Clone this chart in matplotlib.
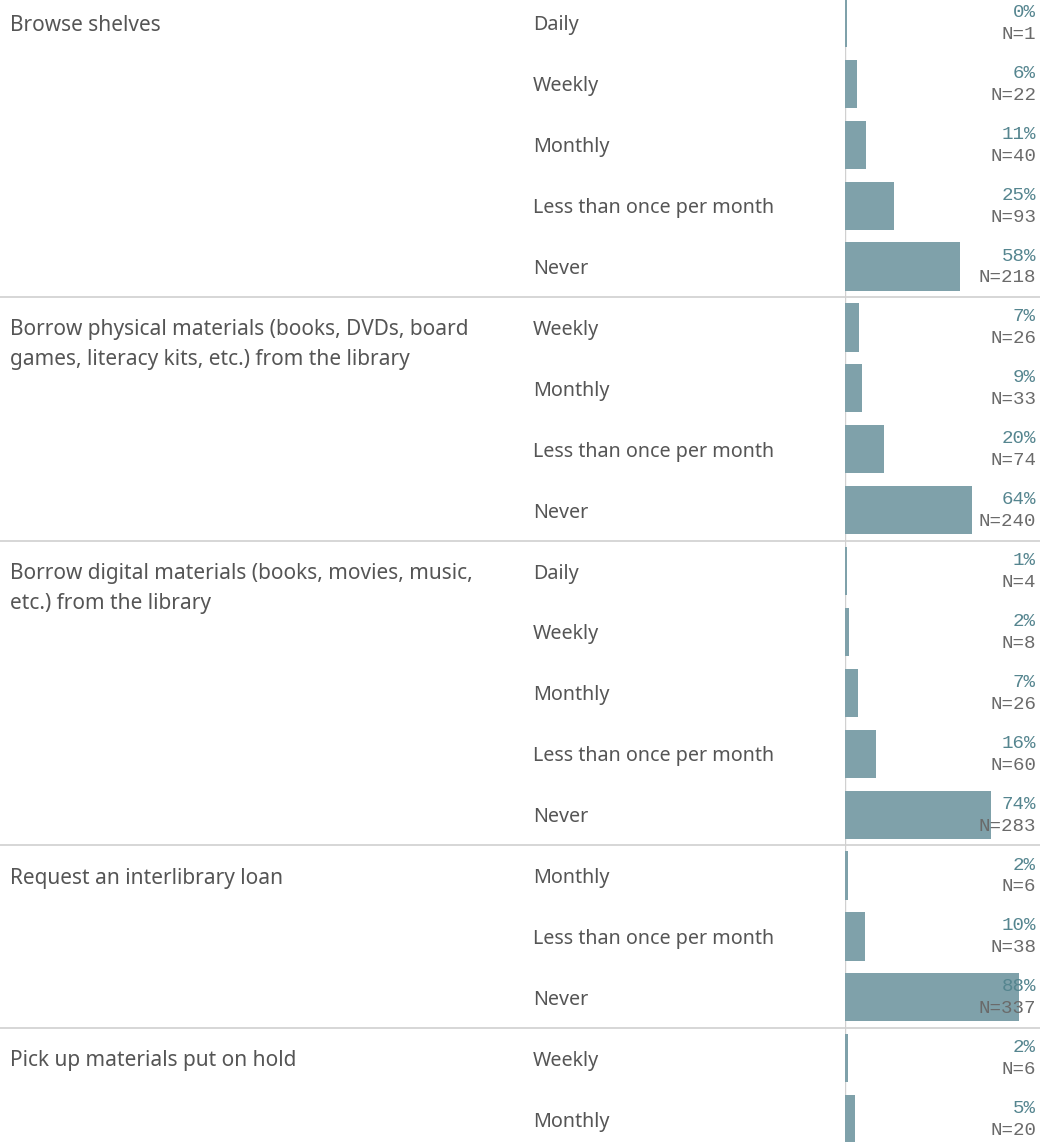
import matplotlib
matplotlib.use("Agg")
import matplotlib.pyplot as plt
import matplotlib.transforms as mtransforms
from matplotlib.lines import Line2D

# Survey data, one list per question
questions = [
    "Browse shelves",
    "Borrow physical materials (books, DVDs, board\ngames, literacy kits, etc.) from the library",
    "Borrow digital materials (books, movies, music,\netc.) from the library",
    "Request an interlibrary loan",
    "Pick up materials put on hold",
]
answers = [
    ["Daily", "Weekly", "Monthly", "Less than once per month", "Never"],
    ["Weekly", "Monthly", "Less than once per month", "Never"],
    ["Daily", "Weekly", "Monthly", "Less than once per month", "Never"],
    ["Monthly", "Less than once per month", "Never"],
    ["Weekly", "Monthly"],
]
pct_labels = [
    [0, 6, 11, 25, 58],
    [7, 9, 20, 64],
    [1, 2, 7, 16, 74],
    [2, 10, 88],
    [2, 5],
]
counts = [
    [1, 22, 40, 93, 218],
    [26, 33, 74, 240],
    [4, 8, 26, 60, 283],
    [6, 38, 337],
    [6, 20],
]
# bar lengths (share of respondents, %)
shares = [
    [0.8, 5.9, 10.7, 24.9, 58.3],
    [7.0, 8.8, 19.8, 64.3],
    [1.0, 2.1, 6.8, 15.7, 74.3],
    [1.6, 10.0, 88.5],
    [1.6, 5.3],
]

W, H = 1040, 1142
ROW = 60.9          # px per answer row
TOP = -7.5          # px position of first row top
BAR_COLOR = "#7fa1aa"
PCT_COLOR = "#55858f"
TEXT_COLOR = "#555555"
GRID_COLOR = "#d0d0d0"
FONT = "Noto Sans"
MONO = "Liberation Mono"

fig = plt.figure(figsize=(W / 100, H / 100), dpi=100)
ax = fig.add_axes([845 / W, 0, 197 / W, 1])
ax.set_xlim(0, 100)
y_top = -0.5 - TOP / ROW
ax.set_ylim(y_top + H / ROW, y_top)
ax.axis("off")

trans = mtransforms.blended_transform_factory(fig.transFigure, ax.transData)

ax.axvline(0, color=GRID_COLOR, lw=1, zorder=0)

row = 0
for gi, q in enumerate(questions):
    first = row
    for a, p, n, s in zip(answers[gi], pct_labels[gi], counts[gi], shares[gi]):
        ax.barh(row, s, height=0.79, color=BAR_COLOR, zorder=2)
        ax.text(533 / W, row, a, transform=trans, ha="left", va="center_baseline",
                fontsize=14.2, color=TEXT_COLOR, family=FONT)
        ax.text(1036 / W, row - 0.205, f"{p}%", transform=trans, ha="right",
                va="center_baseline", fontsize=13.8, color=PCT_COLOR,
                family=MONO, zorder=3)
        ax.text(1036 / W, row + 0.155, f"N={n}", transform=trans, ha="right",
                va="center_baseline", fontsize=13.8, color="#6a6a6a",
                family=MONO, zorder=3)
        row += 1
    for li, line in enumerate(q.split("\n")):
        ax.text(10 / W, first + li * 30 / ROW, line, transform=trans, ha="left",
                va="center_baseline", fontsize=15, color=TEXT_COLOR, family=FONT)
    if gi < len(questions) - 1:
        fig.add_artist(Line2D([0, 1], [row - 0.5, row - 0.5], transform=trans,
                              color=GRID_COLOR, lw=1.2, zorder=1))

fig.savefig("out.png", dpi=100)
